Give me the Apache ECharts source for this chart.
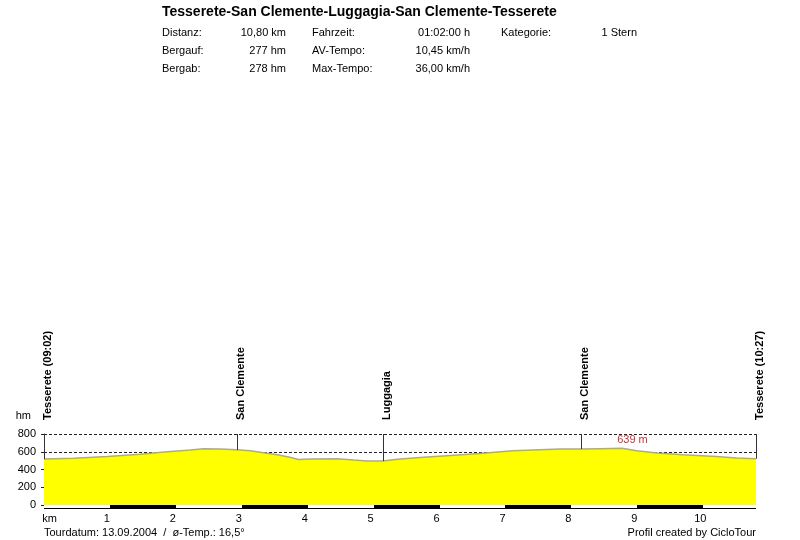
<!DOCTYPE html>
<html><head><meta charset="utf-8">
<script src="https://cdn.jsdelivr.net/npm/echarts@6/dist/echarts.min.js"></script>
<style>html,body{margin:0;padding:0;background:#fff}#c{width:800px;height:540px}</style>
</head><body><div id="c"></div>
<script>
// ---- data ----
const chartTitle = 'Tesserete-San Clemente-Luggagia-San Clemente-Tesserete';
const infoLabels = [['Distanz:', 'Bergauf:', 'Bergab:'], ['Fahrzeit:', 'AV-Tempo:', 'Max-Tempo:'], ['Kategorie:']];
const infoValues = [['10,80 km', '277 hm', '278 hm'], ['01:02:00 h', '10,45 km/h', '36,00 km/h'], ['1 Stern']];
const footerLeft = 'Tourdatum: 13.09.2004  /  ø-Temp.: 16,5°';
const footerRight = 'Profil created by CicloTour';
const kmData =   [0,   0.45, 0.96, 1.46, 1.87, 2.22, 2.42, 2.67, 2.92, 3.13, 3.33, 3.54, 3.73, 3.86, 4.04, 4.45, 4.70, 4.90, 5.14, 5.36, 5.70, 6.05, 6.61, 7.11, 7.83, 8.14, 8.43, 8.77, 8.99, 9.30, 9.69, 10.20, 10.51, 10.80];
const elevData = [517, 528,  546,  573,  599,  620,  635,  632,  622,  611,  590,  565,  537,  512,  518,  520,  507,  497,  495,  515,  535,  552,  580,  611,  630,  630,  635,  639,  612,  585,  565,  546,   530,   522];
const markerNames = ['Tesserete (09:02)', 'San Clemente', 'Luggagia', 'San Clemente', 'Tesserete (10:27)'];
const markerKm = [0, 2.92, 5.14, 8.14, 10.8];
const maxLabel = '639 m';
const xTicks = [0, 1, 2, 3, 4, 5, 6, 7, 8, 9, 10];
const yTicks = [0, 200, 400, 600, 800];
const totalKm = 10.8;

// ---- chart ----
const FONT = '"Liberation Sans", Arial, sans-serif';
const chart = echarts.init(document.getElementById('c'));
const profile = kmData.map((k, i) => [k, elevData[i]]);
const maxIdx = elevData.indexOf(Math.max(...elevData));
const markers = markerKm.map((k, i) => [k, elevData[kmData.indexOf(k)], i]);
const edges = xTicks.concat([totalKm]);
const segments = edges.slice(0, -1).map((a, i) => [a, edges[i + 1], i % 2]);
const yMax = yTicks[yTicks.length - 1];
const px = v => Math.round(v) + 0.5;

const graphics = [];
const labelX = [162, 312, 501], valueX = [286, 470, 637], rowY = [33, 51, 69];
infoLabels.forEach((col, c) => col.forEach((t, r) => {
  graphics.push({type: 'text', x: labelX[c], y: rowY[r], style: {text: t, font: '11px ' + FONT, fill: '#000', align: 'left', verticalAlign: 'middle'}});
  graphics.push({type: 'text', x: valueX[c], y: rowY[r], style: {text: infoValues[c][r], font: '11px ' + FONT, fill: '#000', align: 'right', verticalAlign: 'middle'}});
}));
graphics.push({type: 'text', x: 162, y: 12, style: {text: chartTitle, font: 'bold 14px ' + FONT, fill: '#000', align: 'left', verticalAlign: 'middle'}});
graphics.push({type: 'text', x: 44, y: 533, style: {text: footerLeft, font: '11px ' + FONT, fill: '#000', align: 'left', verticalAlign: 'middle'}});
graphics.push({type: 'text', x: 756, y: 533, style: {text: footerRight, font: '11px ' + FONT, fill: '#000', align: 'right', verticalAlign: 'middle'}});

chart.setOption({
  animation: false,
  backgroundColor: '#fff',
  grid: {left: 44, right: 44, top: 434, bottom: 35},
  graphic: graphics,
  xAxis: {
    type: 'value', min: 0, max: totalKm, interval: 1,
    axisLine: {show: false}, axisTick: {show: false}, splitLine: {show: false},
    axisLabel: {
      showMaxLabel: false, fontSize: 11, color: '#000', fontFamily: FONT, margin: 8, padding: [0, 6, 0, 0],
      formatter: v => v === 0 ? '{km|km}' : String(v),
      rich: {km: {fontSize: 11, color: '#000', fontFamily: FONT, padding: [0, 0, 0, 17]}}
    }
  },
  yAxis: {
    type: 'value', min: 0, max: yMax, interval: 200,
    name: 'hm', nameLocation: 'end', nameGap: 18,
    nameTextStyle: {fontSize: 11, color: '#000', fontFamily: FONT, align: 'right', verticalAlign: 'middle', padding: [0, 13, 0, 0]},
    axisLine: {show: true, lineStyle: {color: '#222', width: 1}},
    axisTick: {show: true, length: 3, lineStyle: {color: '#222'}},
    axisLabel: {fontSize: 11, color: '#000', fontFamily: FONT, margin: 8},
    splitLine: {show: true, lineStyle: {color: '#222', type: [3, 2], width: 1}}
  },
  series: [
    {
      type: 'line', data: profile, showSymbol: false, z: 2,
      lineStyle: {color: '#a8a8a8', width: 1.5},
      areaStyle: {color: '#ffff00', opacity: 1}
    },
    {
      type: 'custom', data: markers, z: 5, clip: false,
      renderItem: (params, api) => {
        const k = api.value(0), e = api.value(1), idx = api.value(2);
        const top = api.coord([k, yMax]);
        const bot = api.coord([k, e]);
        const x = px(top[0]);
        return {type: 'group', children: [
          {type: 'line', shape: {x1: x, y1: top[1], x2: x, y2: bot[1]}, style: {stroke: '#333', lineWidth: 1}},
          {type: 'text', x: Math.round(top[0]) - 2, y: top[1] - 14, rotation: Math.PI / 2,
           style: {text: markerNames[idx], font: 'bold 11px ' + FONT, fill: '#000', align: 'left', verticalAlign: 'top'}}
        ]};
      }
    },
    {
      type: 'custom', data: [[kmData[maxIdx], elevData[maxIdx]]], z: 6, clip: false,
      renderItem: (params, api) => {
        const p = api.coord([api.value(0), yMax]);
        return {type: 'text', x: p[0] - 5, y: p[1] + 6,
          style: {text: maxLabel, font: '11px ' + FONT, fill: '#c83232', align: 'left', verticalAlign: 'middle'}};
      }
    },
    {
      type: 'custom', data: segments, z: 6, clip: false,
      renderItem: (params, api) => {
        const a = api.coord([api.value(0), 0]);
        const b = api.coord([api.value(1), 0]);
        const black = api.value(2) === 1;
        const x0 = Math.round(a[0]), x1 = Math.round(b[0]), y0 = Math.round(a[1]);
        return {type: 'group', children: [
          {type: 'rect', shape: {x: x0, y: y0, width: x1 - x0, height: 4}, style: {fill: black ? '#000' : '#fff'}},
          {type: 'rect', shape: {x: x0, y: y0 + 3, width: x1 - x0, height: 1}, style: {fill: '#000'}}
        ]};
      }
    }
  ]
});
</script></body></html>
